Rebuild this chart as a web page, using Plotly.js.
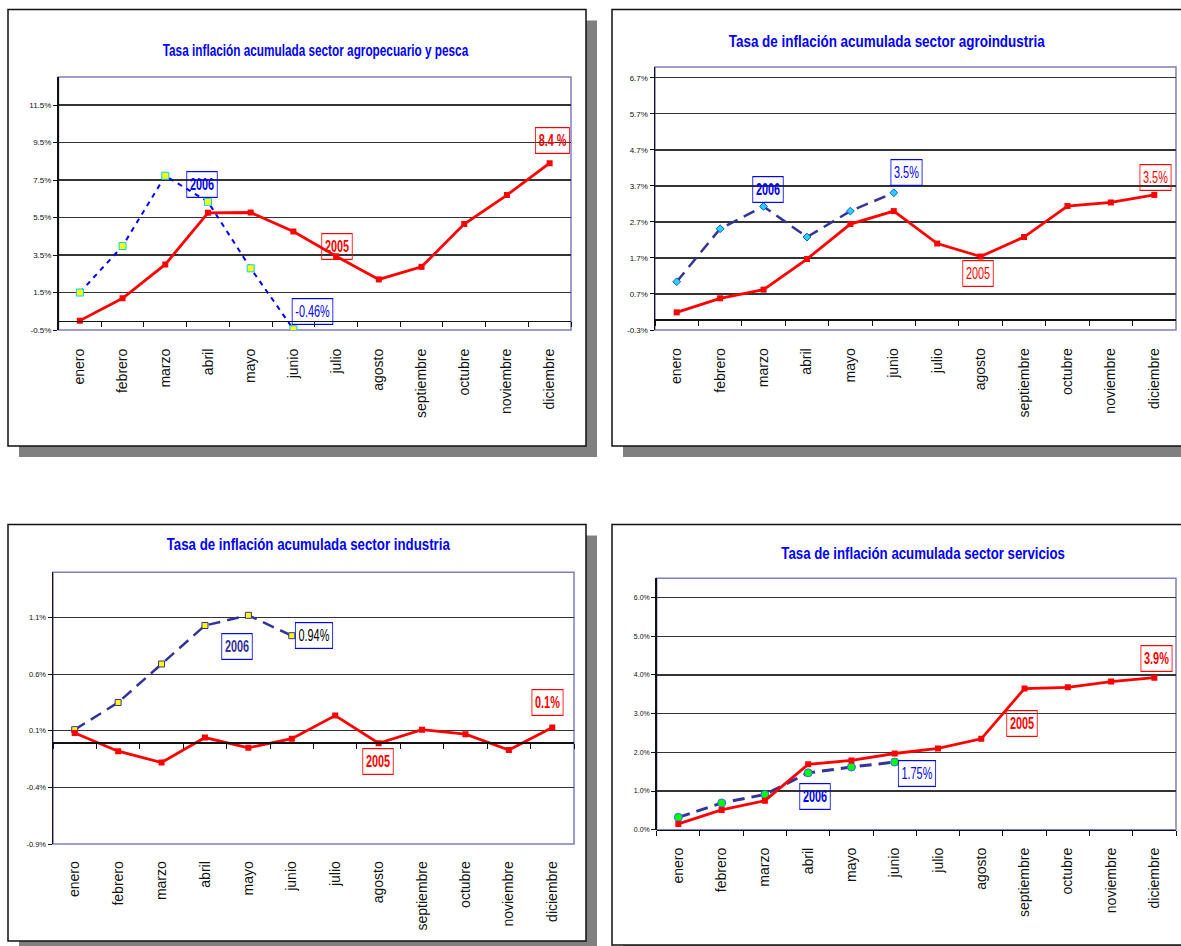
<!DOCTYPE html>
<html><head><meta charset="utf-8">
<script src="https://cdn.plot.ly/plotly-3.0.1.min.js"></script>
<style>html,body{margin:0;padding:0;background:#fff}#chart{width:1181px;height:946px}</style>
</head><body><div id="chart"></div>
<script>
// ---------- DATA ----------
const months = ['enero','febrero','marzo','abril','mayo','junio','julio','agosto','septiembre','octubre','noviembre','diciembre'];
const years = ['2005','2006'];
const titles = [
  'Tasa inflación acumulada sector agropecuario y pesca',
  'Tasa de inflación acumulada sector agroindustria',
  'Tasa de inflación acumulada sector industria',
  'Tasa de inflación acumulada sector servicios'
];
const agro2005 = [0.0, 1.19, 3.0, 5.75, 5.77, 4.76, 3.44, 2.20, 2.87, 5.15, 6.70, 8.40];
const agro2006 = [1.5, 3.98, 7.73, 6.34, 2.79, -0.46];
const agroind2005 = [0.19, 0.58, 0.82, 1.67, 2.64, 3.0, 2.10, 1.74, 2.28, 3.14, 3.24, 3.45];
const agroind2006 = [1.04, 2.51, 3.13, 2.28, 3.0, 3.51];
const ind2005 = [0.08, -0.08, -0.18, 0.04, -0.05, 0.03, 0.235, -0.01, 0.11, 0.07, -0.07, 0.13];
const ind2006 = [0.11, 0.35, 0.69, 1.03, 1.12, 0.94];
const serv2005 = [0.15, 0.51, 0.75, 1.69, 1.79, 1.97, 2.10, 2.35, 3.65, 3.68, 3.83, 3.93];
const serv2006 = [0.32, 0.69, 0.91, 1.47, 1.62, 1.75];

const agroTicks = [-0.5, 1.5, 3.5, 5.5, 7.5, 9.5, 11.5];
const agroTickText = ['-0.5%','1.5%','3.5%','5.5%','7.5%','9.5%','11.5%'];
const agroindTicks = [-0.3, 0.7, 1.7, 2.7, 3.7, 4.7, 5.7, 6.7];
const agroindTickText = ['-0.3%','0.7%','1.7%','2.7%','3.7%','4.7%','5.7%','6.7%'];
const indTicks = [-0.9, -0.4, 0.1, 0.6, 1.1];
const indTickText = ['-0.9%','-0.4%','0.1%','0.6%','1.1%'];
const servTicks = [0, 1, 2, 3, 4, 5, 6];
const servTickText = ['0.0%','1.0%','2.0%','3.0%','4.0%','5.0%','6.0%'];

const agroLabels = ['-0.46%', '8.4 %'];
const agroindLabels = ['3.5%', '3.5%'];
const indLabels = ['0.94%', '0.1%'];
const servLabels = ['1.75%', '3.9%'];

// ---------- LAYOUT HELPERS ----------
const W = 1181, H = 946;
const fx = p => p / W;
const fy = p => 1 - p / H;
const RED = '#FF0000', BLUE = '#0000FF', NAVY = '#333399';
const FONT = 'Liberation Sans, Arial, sans-serif';
const LABEL_SQUEEZE = 0.68;

const panels = [
  { s2005: agro2005, s2006: agro2006, ticks: agroTicks, tickText: agroTickText, range: [-0.5, 13.0],
    box: [58.5, 77, 571, 330], frame: [8, 9.5, 586, 446], title: titles[0], titleXY: [315, 50], titleW: 308,
    ytickSize: 8, standoff: 21,
    line2006: { color: BLUE, width: 2, dash: '5px,5px' },
    marker2006: { symbol: 'square', size: 7, color: '#FFFF00', line: { color: '#00CCFF', width: 1 } },
    labels: [
      { t: years[1], x: 2.86, y: 7.26, c: BLUE, b: true, bc: BLUE },
      { t: agroLabels[0], x: 5.45, y: 0.51, c: BLUE, b: false, bc: BLUE },
      { t: years[0], x: 6.02, y: 3.93, c: RED, b: true, bc: RED },
      { t: agroLabels[1], x: 11.06, y: 9.63, c: RED, b: true, bc: RED }
    ] },
  { s2005: agroind2005, s2006: agroind2006, ticks: agroindTicks, tickText: agroindTickText, range: [-0.3, 7.0],
    box: [655, 67, 1176, 330], frame: [612, 9.5, 1195, 446], title: titles[1], titleXY: [887, 41], titleW: 319,
    ytickSize: 8, standoff: 22,
    line2006: { color: NAVY, width: 2.5, dash: '12px,7px' },
    marker2006: { symbol: 'diamond', size: 6, color: '#33CCFF', line: { color: '#0066CC', width: 1 } },
    labels: [
      { t: years[1], x: 2.10, y: 3.60, c: BLUE, b: true, bc: BLUE },
      { t: agroindLabels[0], x: 5.30, y: 4.06, c: BLUE, b: false, bc: BLUE },
      { t: years[0], x: 6.94, y: 1.26, c: RED, b: false, bc: RED },
      { t: agroindLabels[1], x: 11.03, y: 3.94, c: RED, b: false, bc: RED }
    ] },
  { s2005: ind2005, s2006: ind2006, ticks: indTicks, tickText: indTickText, range: [-0.9, 1.5],
    box: [53, 572.3, 574, 844], frame: [8, 524.5, 586, 941], title: titles[2], titleXY: [308, 544], titleW: 286,
    ytickSize: 7.5, standoff: 112,
    line2006: { color: NAVY, width: 2.5, dash: '12px,7px' },
    marker2006: { symbol: 'square', size: 6, color: '#FFFF00', line: { color: NAVY, width: 1 } },
    labels: [
      { t: years[1], x: 3.74, y: 0.846, c: NAVY, b: true, bc: BLUE },
      { t: indLabels[0], x: 5.51, y: 0.939, c: '#000000', b: false, bc: BLUE },
      { t: years[0], x: 6.996, y: -0.17, c: RED, b: true, bc: RED },
      { t: indLabels[1], x: 10.88, y: 0.347, c: RED, b: true, bc: RED }
    ] },
  { s2005: serv2005, s2006: serv2006, ticks: servTicks, tickText: servTickText, range: [0, 6.5],
    box: [656.7, 578.3, 1176, 829.7], frame: [612, 524.5, 1195, 945], title: titles[3], titleXY: [923, 553], titleW: 286,
    ytickSize: 7, standoff: 11,
    line2006: { color: NAVY, width: 3, dash: '12px,7px' },
    marker2006: { symbol: 'circle', size: 8, color: '#00FF00', line: { color: '#3366FF', width: 1 } },
    labels: [
      { t: servLabels[1], x: 11.06, y: 4.43, c: RED, b: true, bc: RED },
      { t: years[0], x: 7.94, y: 2.75, c: RED, b: true, bc: RED },
      { t: years[1], x: 3.16, y: 0.86, c: BLUE, b: true, bc: BLUE },
      { t: servLabels[0], x: 5.51, y: 1.45, c: BLUE, b: false, bc: BLUE }
    ] }
];

const data = [];
const layout = {
  width: W, height: H, margin: { l: 0, r: 0, t: 0, b: 0 },
  paper_bgcolor: '#ffffff', plot_bgcolor: 'rgba(0,0,0,0)',
  showlegend: false, shapes: [], annotations: []
};
const squeeze = []; // per annotation: {w: target width} or {s: scale}

panels.forEach((p, i) => {
  const n = i === 0 ? '' : String(i + 1);
  const xa = 'x' + n, ya = 'y' + n;
  const [l, t, r, b] = p.box;
  const yDom = [fy(b), fy(t)];
  const zeroFrac = yDom[0] + (0 - p.range[0]) / (p.range[1] - p.range[0]) * (yDom[1] - yDom[0]);

  const [fl, ft, fr, fb] = p.frame;
  layout.shapes.push({ type: 'rect', xref: 'paper', yref: 'paper', layer: 'below',
    x0: fx(fl + 11), x1: fx(fr + 11), y0: fy(fb + 11), y1: fy(ft + 11),
    fillcolor: '#808080', line: { width: 0 } });
  layout.shapes.push({ type: 'rect', xref: 'paper', yref: 'paper', layer: 'below',
    x0: fx(fl), x1: fx(fr), y0: fy(fb), y1: fy(ft),
    fillcolor: '#ffffff', line: { color: '#111111', width: 1.5 } });
  layout.shapes.push({ type: 'rect', xref: xa + ' domain', yref: ya + ' domain', layer: 'below',
    x0: 0, x1: 1, y0: 0, y1: 1, line: { color: '#7F7FBF', width: 1.5 } });

  layout['xaxis' + n] = {
    type: 'category', domain: [fx(l), fx(r)], anchor: 'free', position: zeroFrac,
    range: [-0.5, 11.5], showgrid: false, zeroline: false,
    showline: true, linecolor: '#111111', linewidth: 1.5,
    ticks: 'outside', tickson: 'boundaries', ticklen: 5, tickwidth: 1, tickcolor: '#111111',
    tickangle: -90, ticklabelstandoff: p.standoff,
    tickfont: { family: FONT, size: 14, color: '#111111' }, fixedrange: true
  };
  layout['yaxis' + n] = {
    domain: yDom, anchor: xa, range: p.range,
    tickmode: 'array', tickvals: p.ticks, ticktext: p.tickText,
    showgrid: true, gridcolor: '#333333', gridwidth: 1.3, zeroline: false,
    showline: true, linecolor: '#111111', linewidth: 1.5,
    ticks: 'outside', ticklen: 4, tickwidth: 1, tickcolor: '#111111',
    tickfont: { family: FONT, size: p.ytickSize, color: '#111111' }, fixedrange: true
  };

  data.push({
    type: 'scatter', mode: 'lines+markers', name: years[1], xaxis: xa, yaxis: ya,
    x: months.slice(0, p.s2006.length), y: p.s2006,
    line: p.line2006, marker: p.marker2006, hoverinfo: 'x+y'
  });
  data.push({
    type: 'scatter', mode: 'lines+markers', name: years[0], xaxis: xa, yaxis: ya,
    x: months, y: p.s2005,
    line: { color: RED, width: 2.8 }, marker: { symbol: 'square', size: 6, color: RED }, hoverinfo: 'x+y'
  });

  layout.annotations.push({
    xref: 'paper', yref: 'paper', x: fx(p.titleXY[0]), y: fy(p.titleXY[1]),
    xanchor: 'center', yanchor: 'middle', showarrow: false,
    text: p.title, font: { family: FONT, size: 17, weight: 'bold', color: BLUE }
  });
  squeeze.push({ w: p.titleW });
  p.labels.forEach(lb => {
    layout.annotations.push({
      xref: xa, yref: ya, x: lb.x, y: lb.y, xanchor: 'center', yanchor: 'middle', showarrow: false,
      text: lb.t,
      font: { family: FONT, size: 16, weight: lb.b ? 'bold' : 'normal', color: lb.c },
      bordercolor: lb.bc, borderwidth: 1.2, borderpad: 4
    });
    squeeze.push({ s: LABEL_SQUEEZE });
  });
});

Plotly.newPlot('chart', data, layout, { displayModeBar: false, staticPlot: true }).then(gd => {
  // narrow, tall lettering like the original export
  gd.querySelectorAll('g.annotation').forEach(g => {
    const idx = +g.getAttribute('data-index');
    const spec = squeeze[idx];
    const tg = g.querySelector('g.annotation-text-g');
    if (!tg || !spec) return;
    const bb = tg.getBBox();
    const cx = bb.x + bb.width / 2;
    const s = spec.w ? spec.w / bb.width : spec.s;
    const orig = tg.getAttribute('transform') || '';
    tg.setAttribute('transform', orig + ' translate(' + cx + ',0) scale(' + s + ',1) translate(' + (-cx) + ',0)');
  });
});
</script>
</body></html>
